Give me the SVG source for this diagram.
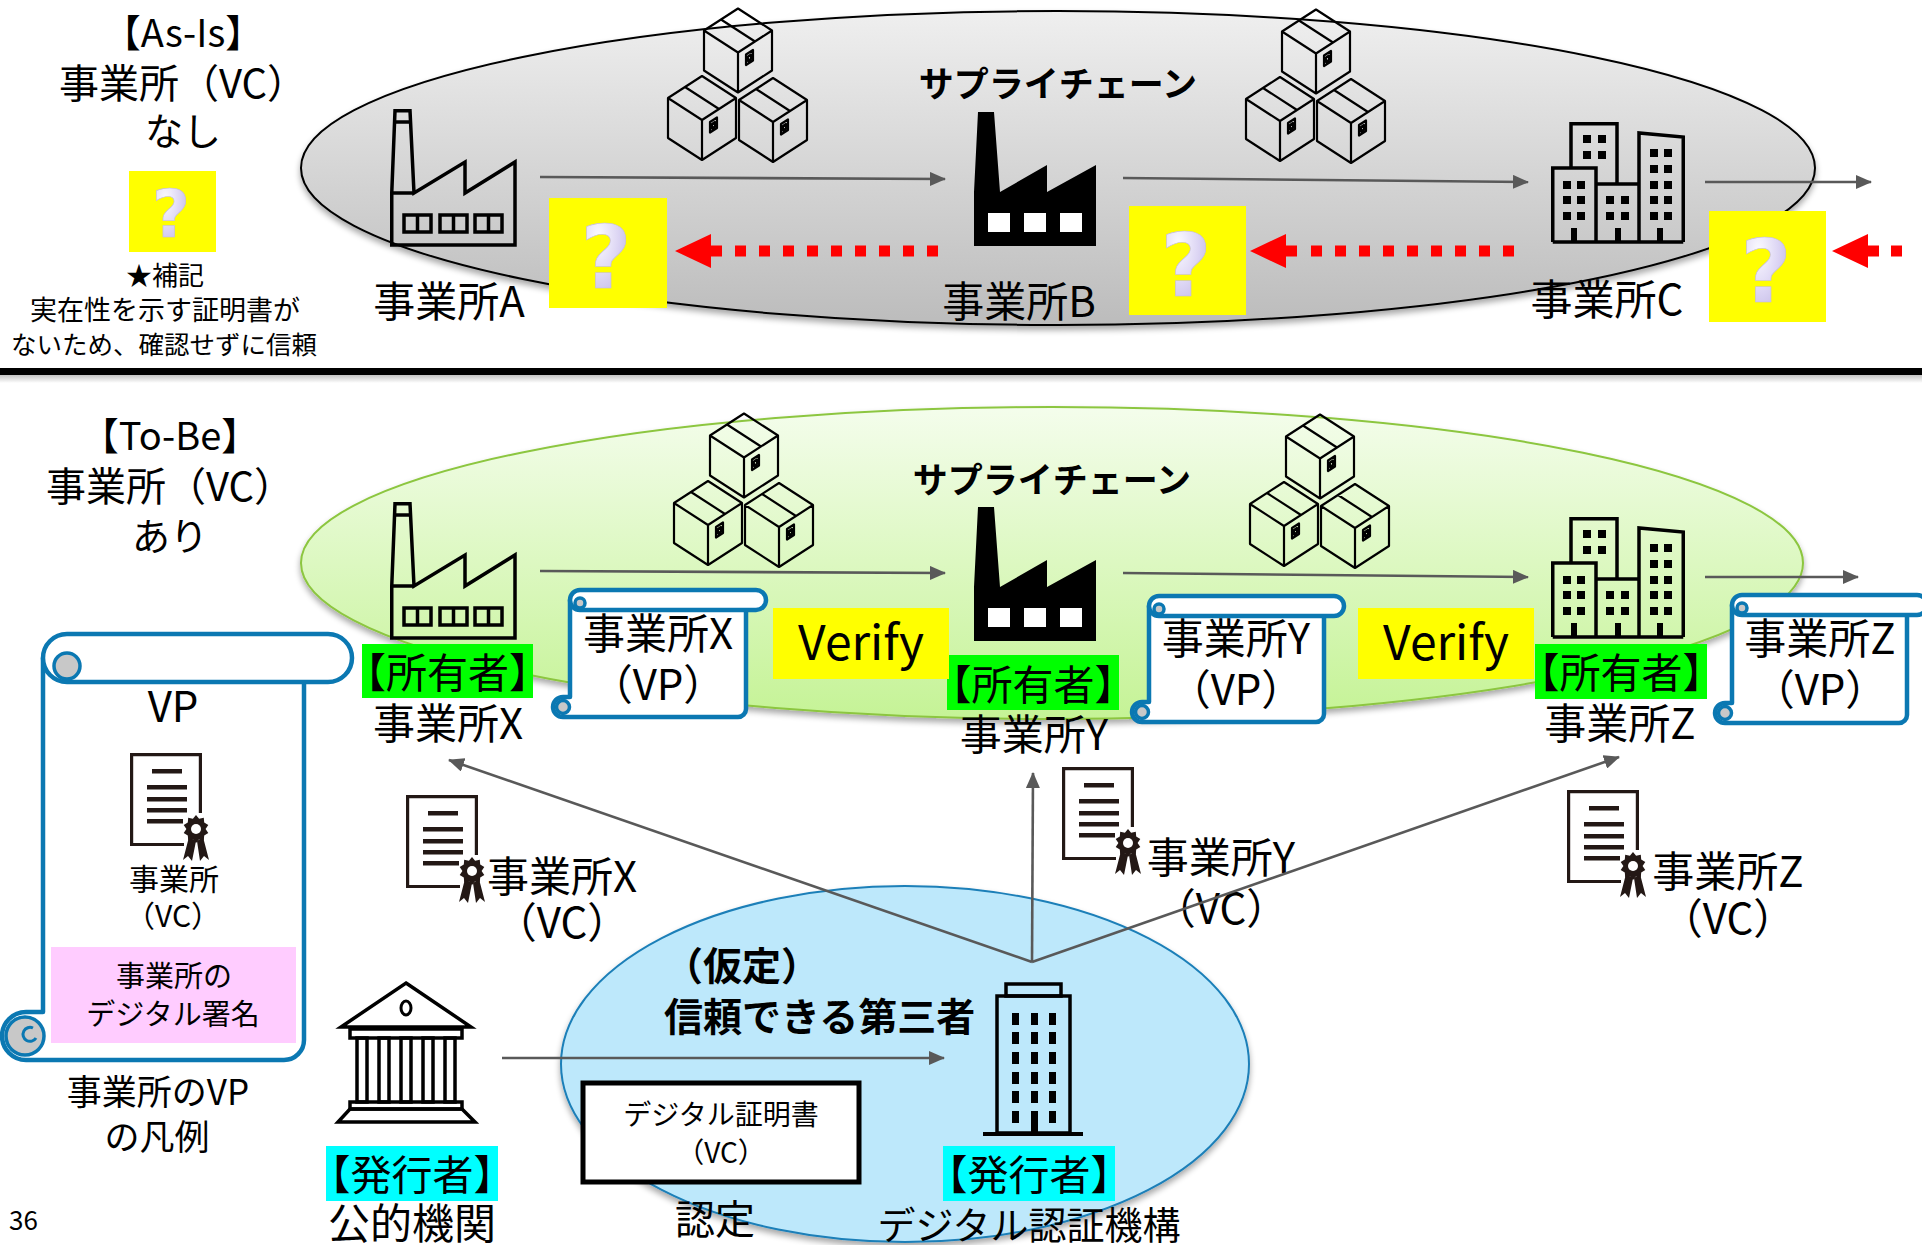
<svg xmlns="http://www.w3.org/2000/svg" xmlns:xlink="http://www.w3.org/1999/xlink" width="1922" height="1245" viewBox="0 0 1922 1245">
  <style>
    .t { font-family: "Noto Sans CJK JP", "Noto Sans", sans-serif; fill: #000; }
    .c { text-anchor: middle; }
    .b { font-weight: bold; }
    .q { font-family: "DejaVu Sans", sans-serif; font-weight: bold; font-size: 88px; text-anchor: middle; fill: url(#qg); stroke: #c3badf; stroke-width: 0.6; }
    .ln { fill: none; stroke: #000; stroke-width: 3.5; stroke-linejoin: miter; }
    .cube { fill: none; stroke: #000; stroke-width: 2.2; stroke-linejoin: round; }
    .conn { fill: none; stroke: #595959; stroke-width: 2.6; marker-end: url(#ah); }
    .red { fill: none; stroke: #ff0000; stroke-width: 11; stroke-dasharray: 11 13; }
    .scroll { fill: #fff; stroke: #0b78b2; stroke-width: 4.5; stroke-linejoin: round; }
    .curl { fill: #c8c8c8; stroke: #0b78b2; stroke-width: 3.5; }
    .doc { fill: none; stroke: #231815; stroke-width: 3.2; }
  </style>
  <defs>
    <linearGradient id="grayFill" x1="0" y1="0" x2="0" y2="1">
      <stop offset="0" stop-color="#efefef"/>
      <stop offset="1" stop-color="#bcbcbc"/>
    </linearGradient>
    <linearGradient id="greenFill" x1="0" y1="0" x2="0" y2="1">
      <stop offset="0" stop-color="#f4fdec"/>
      <stop offset="1" stop-color="#c5f396"/>
    </linearGradient>
    <radialGradient id="qg" cx="0.35" cy="0.3" r="0.85">
      <stop offset="0" stop-color="#fbfaff"/>
      <stop offset="0.45" stop-color="#ddd6f4"/>
      <stop offset="1" stop-color="#b2a8dc"/>
    </radialGradient>
    <linearGradient id="barShade" x1="0" y1="0" x2="0" y2="1">
      <stop offset="0" stop-color="#9a9a9a"/>
      <stop offset="1" stop-color="#ffffff"/>
    </linearGradient>
    <filter id="sh" x="-5%" y="-10%" width="110%" height="125%">
      <feGaussianBlur in="SourceAlpha" stdDeviation="3"/>
      <feOffset dy="4"/>
      <feComponentTransfer><feFuncA type="linear" slope="0.35"/></feComponentTransfer>
      <feMerge><feMergeNode/><feMergeNode in="SourceGraphic"/></feMerge>
    </filter>
    <marker id="ah" markerWidth="16" markerHeight="14" refX="15" refY="7" orient="auto" markerUnits="userSpaceOnUse">
      <path d="M0,0 L16,7 L0,14 Z" fill="#595959"/>
    </marker>

    <!-- outline factory -->
    <symbol id="factoryOutline" viewBox="0 0 127 138" width="127" height="138" overflow="visible">
      <path class="ln" d="M1.75,136 V84 L5,1.75 H20 L24,84 L75,53 V84 L125,53 V136 Z"/>
      <path class="ln" d="M4.5,13 H20.5 M1.75,84 H24"/>
      <g class="ln" stroke-width="3">
        <rect x="14" y="106" width="27" height="17"/>
        <rect x="50" y="106" width="27" height="17"/>
        <rect x="85" y="106" width="27" height="17"/>
        <path d="M27.5,106 V123 M63.5,106 V123 M98.5,106 V123"/>
      </g>
    </symbol>

    <!-- solid factory -->
    <symbol id="factorySolid" viewBox="0 0 125 137" width="125" height="137" overflow="visible">
      <path d="M1,135 V81 L5,1 H21 L27,81 L74,54 V81 L123,54 V135 Z" fill="#000"/>
      <rect x="15" y="102" width="22" height="19" fill="#fff"/>
      <rect x="51" y="102" width="22" height="19" fill="#fff"/>
      <rect x="87" y="102" width="22" height="19" fill="#fff"/>
    </symbol>

    <!-- office cluster -->
    <symbol id="offices" viewBox="0 0 135 123" width="135" height="123" overflow="visible">
      <path class="ln" d="M20,46 V1.75 H66 V62 M1.75,120 V46 H45 V120 M45,62 H88 M88,120 V11 L132.25,15 V120 M1.75,120 H132.25"/>
      <g fill="#000">
        <rect x="32" y="13" width="8" height="8"/><rect x="47" y="13" width="8" height="8"/>
        <rect x="32" y="29" width="8" height="8"/><rect x="47" y="29" width="8" height="8"/>
        <rect x="12" y="59" width="8" height="8"/><rect x="26" y="59" width="8" height="8"/>
        <rect x="12" y="74" width="8" height="8"/><rect x="26" y="74" width="8" height="8"/>
        <rect x="12" y="90" width="8" height="8"/><rect x="26" y="90" width="8" height="8"/>
        <rect x="55" y="74" width="8" height="8"/><rect x="70" y="74" width="8" height="8"/>
        <rect x="55" y="90" width="8" height="8"/><rect x="70" y="90" width="8" height="8"/>
        <rect x="99" y="27" width="8" height="8"/><rect x="113" y="27" width="8" height="8"/>
        <rect x="99" y="43" width="8" height="8"/><rect x="113" y="43" width="8" height="8"/>
        <rect x="99" y="59" width="8" height="8"/><rect x="113" y="59" width="8" height="8"/>
        <rect x="99" y="74" width="8" height="8"/><rect x="113" y="74" width="8" height="8"/>
        <rect x="99" y="90" width="8" height="8"/><rect x="113" y="90" width="8" height="8"/>
        <rect x="20" y="106" width="6" height="14"/>
        <rect x="64" y="106" width="6" height="14"/>
        <rect x="106" y="106" width="6" height="14"/>
      </g>
    </symbol>

    <!-- stack of three boxes -->
    <symbol id="boxes" viewBox="0 0 143 157" width="143" height="157" overflow="visible">
      <g class="cube">
        <path d="M72,1.5 L106,23.5 L106,63.5 L72,85.5 L38,63.5 L38,23.5 Z M38,23.5 L72,45.5 L106,23.5 M72,45.5 V85.5 M55,12.5 L89,34.5"/>
        <path d="M80,47.5 L87,43 V53.5 L80,58 Z M82,49.5 L85,47.5 V52 L82,54 Z"/>
        <path d="M36,69 L70,91 L70,131 L36,153 L2,131 L2,91 Z M2,91 L36,113 L70,91 M36,113 V153 M19,80 L53,102"/>
        <path d="M44,115 L51,110.5 V121 L44,125.5 Z M46,117 L49,115 V119.5 L46,121.5 Z"/>
        <path d="M107,71 L141,93 L141,133 L107,155 L73,133 L73,93 Z M73,93 L107,115 L141,93 M107,115 V155 M90,82 L124,104"/>
        <path d="M115,117 L122,112.5 V123 L115,127.5 Z M117,119 L120,117 V121.5 L117,123.5 Z"/>
      </g>
    </symbol>

    <!-- certificate with rosette -->
    <symbol id="vc" viewBox="0 0 84 112" width="84" height="112" overflow="visible">
      <path class="doc" d="M54,91.5 H1.6 V1.6 H70.4 V60"/>
      <g fill="#231815">
        <rect x="22" y="16" width="30" height="4.5"/>
        <rect x="17" y="32" width="40" height="4.5"/>
        <rect x="17" y="44" width="40" height="4.5"/>
        <rect x="17" y="55" width="40" height="4.5"/>
        <rect x="17" y="66" width="36" height="4.5"/>
        <path d="M59,84 L53,107 L58,103 L62,108 L66,88 Z"/>
        <path d="M67,88 L70,108 L74,103 L79,107 L73,84 Z"/>
        <polygon points="66,62 69.1,65.7 73.8,64.8 74.2,69.5 78.3,72 75.6,76 78.3,80 74.2,82.5 73.8,87.2 69.1,86.3 66,90 62.9,86.3 58.2,87.2 57.8,82.5 53.7,80 56.4,76 53.7,72 57.8,69.5 58.2,64.8 62.9,65.7"/>
      </g>
      <circle cx="66" cy="76" r="5" fill="#fff"/>
    </symbol>
  </defs>

  <rect x="0" y="0" width="1922" height="1245" fill="#fff"/>

  <!-- ===== As-Is ===== -->
  <g id="asis-heading">
    <text class="t c" x="183" y="47" font-size="38">【As-Is】<tspan x="183" y="98" font-size="40">事業所（VC）</tspan><tspan x="183" y="145">なし</tspan></text>
  </g>
  <g id="asis-note">
    <rect x="129" y="171" width="87" height="81" fill="#ffff00"/>
    <text class="q" x="171" y="237" style="font-size:66px">?</text>
    <text class="t c" x="165" y="285" font-size="26">★補記<tspan x="165" y="320" font-size="27">実在性を示す証明書が</tspan><tspan x="164" y="354" font-size="25.5">ないため、確認せずに信頼</tspan></text>
  </g>

  <g id="asis-chain">
    <ellipse cx="1058" cy="168" rx="757" ry="157" fill="url(#grayFill)" stroke="#000" stroke-width="2" filter="url(#sh)"/>
    <text class="t c b" x="1058" y="97" font-size="35">サプライチェーン</text>
  </g>
  <use href="#boxes" x="666" y="7"/>
  <use href="#boxes" x="1244" y="8"/>

  <g id="site-a">
    <use href="#factoryOutline" x="390" y="109"/>
    <text class="t c" x="449" y="317" font-size="42">事業所A</text>
  </g>
  <g id="site-b">
    <use href="#factorySolid" x="973" y="111"/>
    <text class="t c" x="1019" y="317" font-size="42">事業所B</text>
  </g>
  <g id="site-c">
    <use href="#offices" x="1551" y="122"/>
    <text class="t c" x="1607" y="315" font-size="42">事業所C</text>
  </g>

  <g id="asis-connectors">
    <path class="conn" d="M540,177 L945,179"/>
    <path class="conn" d="M1123,178 L1528,182"/>
    <path class="conn" d="M1705,182 L1871,182"/>
    <g fill="#ff0000">
      <path d="M675,251 L711,234 V245.5 H722 V256.5 H711 V268 Z"/>
      <path d="M1250,251 L1286,234 V245.5 H1297 V256.5 H1286 V268 Z"/>
      <path d="M1832,251 L1868,234 V245.5 H1879 V256.5 H1868 V268 Z"/>
    </g>
    <path class="red" d="M735,251 H938"/>
    <path class="red" d="M1311,251 H1514"/>
    <path class="red" d="M1891,251 H1902"/>
  </g>

  <g id="asis-unknown">
    <rect x="549" y="198" width="118" height="110" fill="#ffff00"/>
    <text class="q" x="606" y="288">?</text>
    <rect x="1129" y="206" width="117" height="109" fill="#ffff00"/>
    <text class="q" x="1186" y="296">?</text>
    <rect x="1709" y="211" width="117" height="111" fill="#ffff00"/>
    <text class="q" x="1766" y="302">?</text>
  </g>

  <!-- section divider -->
  <rect x="0" y="375" width="1922" height="8" fill="url(#barShade)" opacity="0.6"/>
  <rect x="0" y="368" width="1922" height="7" fill="#000"/>

  <!-- ===== To-Be ===== -->
  <g id="tobe-heading">
    <text class="t c" x="170" y="450" font-size="38">【To-Be】<tspan x="170" y="501" font-size="40">事業所（VC）</tspan><tspan x="170" y="550">あり</tspan></text>
  </g>

  <g id="tobe-chain">
    <ellipse cx="1052" cy="563" rx="751" ry="156" fill="url(#greenFill)" stroke="#8cc63f" stroke-width="2" filter="url(#sh)"/>
    <text class="t c b" x="1052" y="493" font-size="35">サプライチェーン</text>
  </g>
  <use href="#boxes" x="672" y="412"/>
  <use href="#boxes" x="1248" y="413"/>

  <g id="trust-party">
    <ellipse cx="905" cy="1064" rx="344" ry="178" fill="#bde8fb" stroke="#1b7fb8" stroke-width="2" filter="url(#sh)"/>
    <text class="t b" x="664" y="980" font-size="39">（仮定）<tspan x="664" y="1031">信頼できる第三者</tspan></text>
  </g>

  <g id="tobe-flow">
    <path class="conn" d="M540,571 L945,573"/>
    <path class="conn" d="M1123,573 L1528,577"/>
    <path class="conn" d="M1705,577 L1858,577"/>
  </g>

  <g id="site-x">
    <use href="#factoryOutline" x="390" y="502"/>
    <rect x="362" y="644" width="171" height="54" fill="#00ff00"/>
    <text class="t c" x="447.5" y="688" font-size="41">【所有者】<tspan x="448" y="739" font-size="42">事業所X</tspan></text>
  </g>
  <g id="site-y">
    <use href="#factorySolid" x="973" y="506"/>
    <rect x="947" y="655" width="172" height="55" fill="#00ff00"/>
    <text class="t c" x="1033" y="700" font-size="41">【所有者】<tspan x="1034" y="750" font-size="42">事業所Y</tspan></text>
  </g>
  <g id="site-z">
    <use href="#offices" x="1551" y="517"/>
    <rect x="1535" y="644" width="172" height="55" fill="#00ff00"/>
    <text class="t c" x="1621" y="688" font-size="41">【所有者】<tspan x="1620" y="739" font-size="42">事業所Z</tspan></text>
  </g>

  <g id="vp-x">
    <path class="scroll" stroke-width="4" d="M570,600 H746 V709 A8,8 0 0 1 738,717 H563 A10,10 0 0 1 563,697 H570 Z"/>
    <path class="scroll" stroke-width="4" d="M580,590 H756 A10,10 0 0 1 756,610 H580 A10,10 0 0 1 580,590 Z"/>
    <circle class="curl" stroke-width="3" cx="580" cy="603" r="5"/>
    <circle class="curl" stroke-width="3" cx="563" cy="707" r="6.5"/>
    <text class="t c" x="658" y="649" font-size="42">事業所X<tspan x="658" y="700">（VP）</tspan></text>
  </g>
  <g id="vp-y">
    <path class="scroll" stroke-width="4" d="M1149,606 H1324 V714 A8,8 0 0 1 1316,722 H1142 A10,10 0 0 1 1142,702 H1149 Z"/>
    <path class="scroll" stroke-width="4" d="M1159,596 H1334 A10,10 0 0 1 1334,616 H1159 A10,10 0 0 1 1159,596 Z"/>
    <circle class="curl" stroke-width="3" cx="1159" cy="609" r="5"/>
    <circle class="curl" stroke-width="3" cx="1142" cy="712" r="6.5"/>
    <text class="t c" x="1236" y="654" font-size="42">事業所Y<tspan x="1236" y="705">（VP）</tspan></text>
  </g>
  <g id="vp-z">
    <path class="scroll" stroke-width="4" d="M1732,605 H1907 V715 A8,8 0 0 1 1899,723 H1725 A10,10 0 0 1 1725,703 H1732 Z"/>
    <path class="scroll" stroke-width="4" d="M1742,595 H1917 A10,10 0 0 1 1917,615 H1742 A10,10 0 0 1 1742,595 Z"/>
    <circle class="curl" stroke-width="3" cx="1742" cy="608" r="5"/>
    <circle class="curl" stroke-width="3" cx="1725" cy="713" r="6.5"/>
    <text class="t c" x="1820" y="654" font-size="42">事業所Z<tspan x="1820" y="705">（VP）</tspan></text>
  </g>

  <g id="verify-xy">
    <rect x="773" y="608" width="176" height="71" fill="#ffff00"/>
    <text class="t c" x="861" y="660" font-size="48">Verify</text>
  </g>
  <g id="verify-yz">
    <rect x="1358" y="608" width="176" height="71" fill="#ffff00"/>
    <text class="t c" x="1446" y="660" font-size="48">Verify</text>
  </g>

  <g id="vc-x">
    <use href="#vc" x="406" y="795"/>
    <text class="t c" x="562" y="892" font-size="42">事業所X<tspan x="562" y="938">（VC）</tspan></text>
  </g>
  <g id="vc-y">
    <use href="#vc" x="1062" y="767"/>
    <text class="t c" x="1221" y="873" font-size="42">事業所Y<tspan x="1221" y="924">（VC）</tspan></text>
  </g>
  <g id="vc-z">
    <use href="#vc" x="1567" y="790"/>
    <text class="t c" x="1728" y="887" font-size="42">事業所Z<tspan x="1728" y="934">（VC）</tspan></text>
  </g>

  <!-- legend: structure of a VP -->
  <g id="vp-legend">
    <path class="scroll" d="M43,658 H304 V1040 A20,20 0 0 1 284,1060 H26 A24,24 0 0 1 26,1012 H43 Z"/>
    <path class="scroll" d="M67,634 H328 A24,24 0 0 1 328,682 H67 A24,24 0 0 1 67,634 Z"/>
    <circle class="curl" cx="67" cy="666" r="13"/>
    <circle class="curl" cx="25" cy="1036" r="19"/>
    <path d="M33,1028 A7,7 0 1 0 36,1038" fill="none" stroke="#0b78b2" stroke-width="3"/>
    <text class="t c" x="173" y="722" font-size="42">VP</text>
    <use href="#vc" x="130" y="753"/>
    <text class="t c" x="174" y="890" font-size="30">事業所<tspan x="173" y="927">（VC）</tspan></text>
    <rect x="51" y="947" width="245" height="96" fill="#ffccff"/>
    <text class="t c" x="174" y="987" font-size="29">事業所の<tspan x="173" y="1025">デジタル署名</tspan></text>
    <text class="t c" x="158" y="1105" font-size="35">事業所のVP<tspan x="157" y="1150">の凡例</tspan></text>
  </g>

  <g id="public-agency">
    <g class="ln" stroke-width="3.5" fill="#fff">
      <polygon points="406,983 471,1027 341,1027"/>
      <rect x="350" y="1029" width="112" height="9"/>
      <rect x="357" y="1038" width="10" height="64"/>
      <rect x="379" y="1038" width="10" height="64"/>
      <rect x="401" y="1038" width="10" height="64"/>
      <rect x="423" y="1038" width="10" height="64"/>
      <rect x="445" y="1038" width="10" height="64"/>
      <rect x="350" y="1102" width="112" height="7"/>
      <polygon points="350,1109 462,1109 475,1122 338,1122"/>
    </g>
    <ellipse cx="406" cy="1008" rx="5" ry="7" fill="none" stroke="#000" stroke-width="3"/>
    <rect x="326" y="1146" width="172" height="55" fill="#00ffff"/>
    <text class="t c" x="412" y="1190" font-size="41">【発行者】<tspan x="412" y="1239" font-size="42">公的機関</tspan></text>
  </g>

  <g id="cert-box">
    <rect x="583" y="1083" width="276" height="99" fill="#fff" stroke="#000" stroke-width="5"/>
    <text class="t c" x="721" y="1125" font-size="28">デジタル証明書<tspan x="721" y="1163">（VC）</tspan></text>
    <text class="t c" x="715" y="1234" font-size="40">認定</text>
  </g>

  <g id="digital-auth">
    <g class="ln" fill="none">
      <rect x="1006" y="984" width="55" height="12"/>
      <rect x="997" y="996" width="73" height="137"/>
      <path d="M983,1134 H1083" stroke-width="4"/>
    </g>
    <g fill="#000">
      <rect x="1012" y="1013" width="7" height="12"/><rect x="1031" y="1013" width="7" height="12"/><rect x="1049" y="1013" width="7" height="12"/>
      <rect x="1012" y="1032" width="7" height="12"/><rect x="1031" y="1032" width="7" height="12"/><rect x="1049" y="1032" width="7" height="12"/>
      <rect x="1012" y="1052" width="7" height="12"/><rect x="1031" y="1052" width="7" height="12"/><rect x="1049" y="1052" width="7" height="12"/>
      <rect x="1012" y="1072" width="7" height="12"/><rect x="1031" y="1072" width="7" height="12"/><rect x="1049" y="1072" width="7" height="12"/>
      <rect x="1012" y="1091" width="7" height="12"/><rect x="1031" y="1091" width="7" height="12"/><rect x="1049" y="1091" width="7" height="12"/>
      <rect x="1012" y="1111" width="7" height="12"/><rect x="1031" y="1111" width="7" height="22"/><rect x="1049" y="1111" width="7" height="12"/>
    </g>
    <rect x="943" y="1146" width="172" height="55" fill="#00ffff"/>
    <text class="t c" x="1029" y="1190" font-size="41">【発行者】<tspan x="1029" y="1239" font-size="38">デジタル認証機構</tspan></text>
  </g>

  <g id="issue-connectors">
    <path class="conn" d="M502,1058 L944,1058"/>
    <path class="conn" d="M1032,962 L449,760"/>
    <path class="conn" d="M1032,962 L1033,773"/>
    <path class="conn" d="M1032,962 L1619,757"/>
  </g>

  <text class="t" x="9" y="1230" font-size="26">36</text>
</svg>
